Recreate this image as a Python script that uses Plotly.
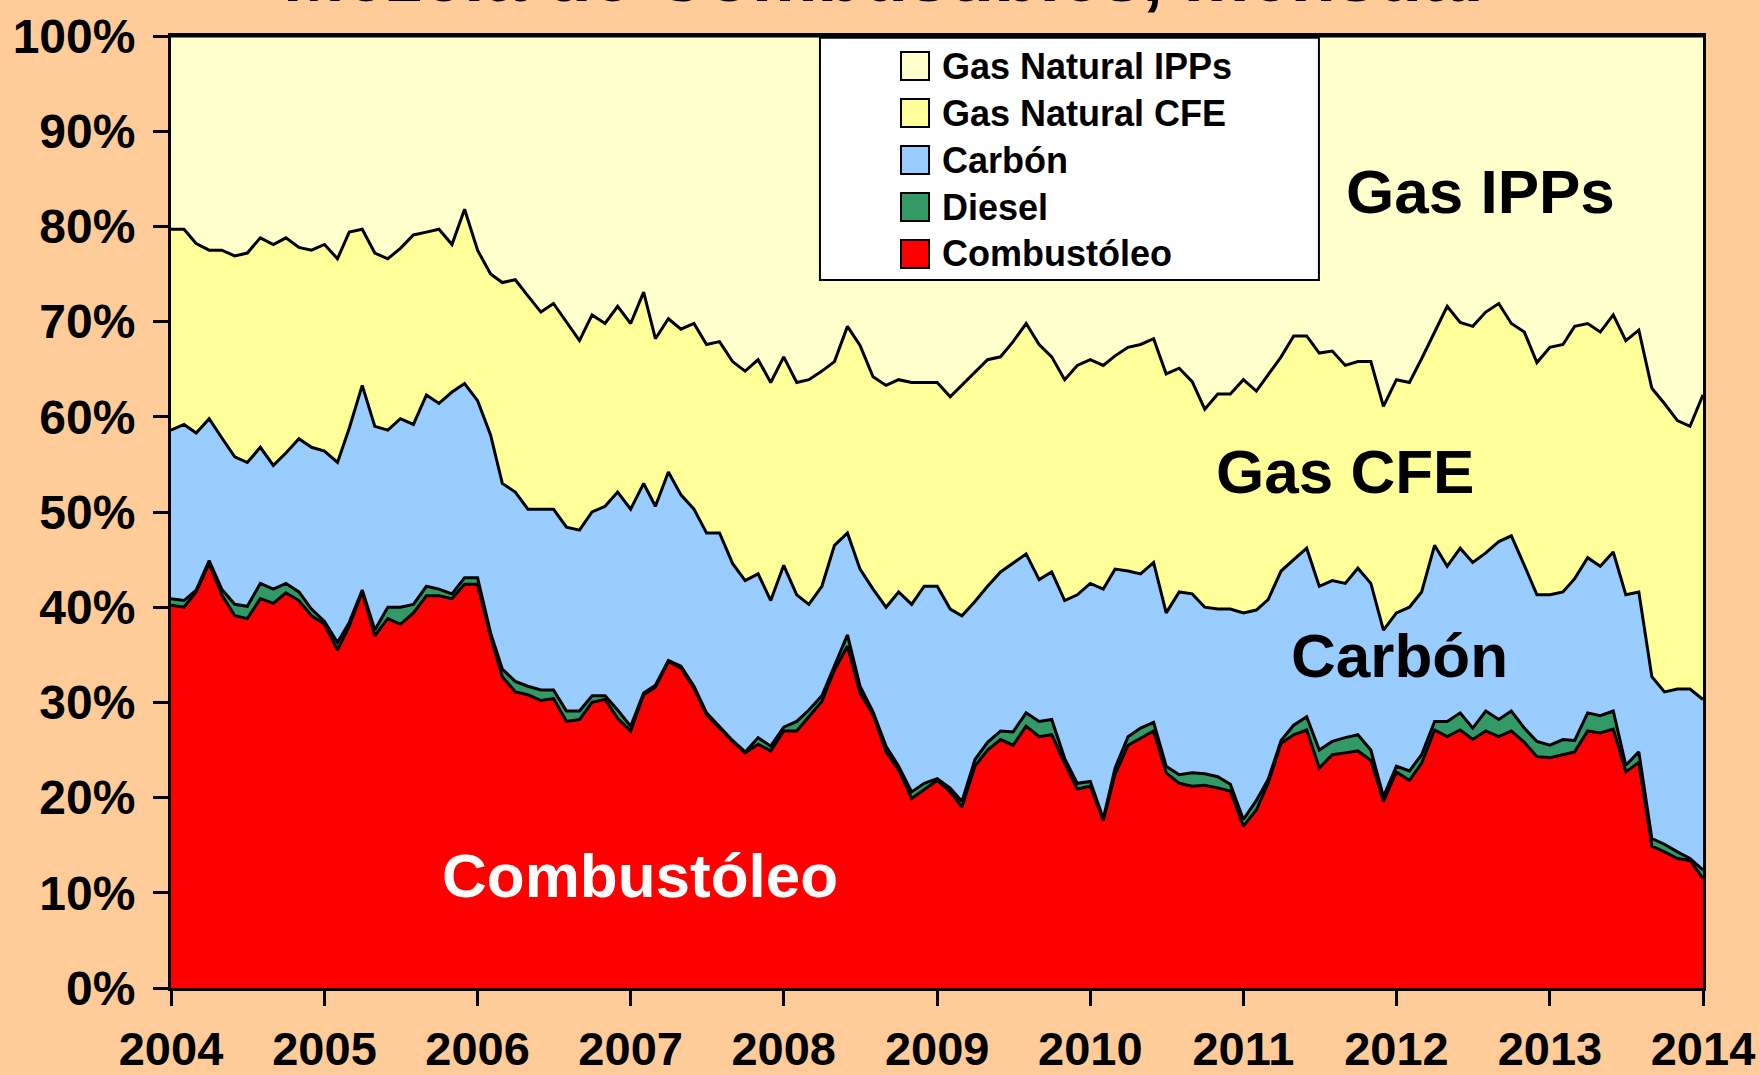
import pandas as pd
import plotly.graph_objects as go

# Monthly fuel shares (%) for generation, Jan 2004 - Jan 2014
months = pd.date_range("2004-01-01", "2014-01-01", freq="MS")

combustoleo = [
    40.2, 40.0, 41.6, 44.6, 41.3, 39.1, 38.8, 40.9, 40.4, 41.5, 40.7, 39.1,
    38.2, 35.5, 38.0, 41.6, 37.0, 38.8, 38.2, 39.4, 41.2, 41.2, 40.9, 42.4,
    42.4, 36.9, 32.7, 31.1, 30.8, 30.2, 30.4, 28.0, 28.2, 30.0, 30.3, 28.3,
    27.0, 30.8, 31.6, 34.3, 33.6, 31.5, 28.7, 27.3, 25.9, 24.7, 25.6, 24.9,
    27.0, 27.0, 28.5, 30.1, 33.4, 35.9, 31.0, 28.7, 24.8, 22.9, 19.9, 20.8,
    21.8, 20.6, 19.0, 23.3, 25.0, 26.1, 25.5, 27.5, 26.4, 26.6, 23.6, 20.9,
    21.2, 17.6, 22.4, 25.5, 26.2, 27.0, 22.6, 21.5, 21.2, 21.3, 21.0, 20.7,
    17.0, 18.7, 21.5, 25.7, 26.6, 27.1, 23.1, 24.5, 24.7, 24.9, 23.9, 19.6,
    22.7, 21.8, 23.6, 27.1, 26.4, 27.1, 26.1, 27.0, 26.4, 27.0, 25.8, 24.3,
    24.2, 24.5, 24.8, 27.0, 26.8, 27.2, 22.7, 23.7, 14.9, 14.3, 13.6, 13.4,
    11.5,
]
diesel = [
    0.7, 0.7, 0.2, 0.3, 0.6, 1.2, 1.3, 1.6, 1.5, 1.0, 0.9, 0.7,
    0.3, 0.8, 0.4, 0.2, 0.6, 1.2, 1.8, 0.9, 1.0, 0.7, 0.5, 0.7,
    0.7, 0.4, 0.8, 1.1, 0.9, 1.1, 0.9, 1.1, 0.9, 0.7, 0.4, 0.9,
    0.5, 0.2, 0.2, 0.1, 0.2, 0.2, 0.2, 0.2, 0.1, 0.1, 0.7, 0.5,
    0.4, 1.0, 0.7, 0.6, 0.5, 1.2, 0.7, 0.3, 0.6, 0.4, 0.7, 0.7,
    0.2, 0.4, 0.6, 0.7, 0.8, 0.9, 1.4, 1.4, 1.6, 1.6, 0.5, 0.6,
    0.5, 0.2, 0.7, 0.9, 1.1, 0.9, 0.7, 0.9, 1.4, 1.2, 1.2, 0.7,
    0.7, 1.0, 0.4, 0.3, 1.0, 1.4, 1.9, 1.4, 1.6, 1.7, 1.1, 0.5,
    0.6, 1.0, 0.9, 0.9, 1.6, 1.8, 1.2, 2.1, 1.8, 2.1, 1.5, 1.6,
    1.3, 1.6, 1.2, 1.9, 1.8, 1.9, 0.7, 1.1, 0.8, 0.8, 0.7, 0.2,
    0.9,
]
carbon = [
    17.7, 18.5, 16.5, 14.9, 15.9, 15.5, 15.1, 14.3, 13.0, 13.7, 16.1, 17.0,
    17.9, 18.9, 20.4, 21.5, 21.4, 18.6, 19.8, 18.9, 20.1, 19.5, 21.2, 20.4,
    18.6, 20.8, 19.5, 19.9, 18.6, 19.0, 19.0, 19.3, 19.0, 19.3, 19.9, 22.9,
    22.8, 22.0, 18.8, 19.8, 18.0, 18.6, 18.9, 20.3, 18.6, 18.0, 17.2, 15.3,
    17.0, 13.3, 11.1, 11.5, 12.6, 10.7, 12.3, 12.9, 14.6, 18.3, 19.7, 20.7,
    20.2, 18.8, 19.5, 16.6, 16.4, 16.7, 17.7, 16.7, 14.9, 15.5, 16.6, 19.8,
    20.8, 24.1, 20.9, 17.4, 16.2, 16.8, 16.1, 19.2, 18.8, 17.5, 17.6, 18.4,
    21.7, 20.0, 18.9, 17.8, 17.4, 17.7, 17.2, 16.9, 16.2, 17.5, 17.5, 17.5,
    16.1, 17.2, 17.1, 18.5, 16.3, 17.3, 17.4, 16.6, 18.7, 18.4, 17.1, 15.4,
    15.8, 15.5, 17.0, 16.3, 15.7, 16.7, 17.9, 16.8, 17.0, 16.0, 17.1, 17.8,
    17.9,
]
gas_cfe = [
    21.1, 20.5, 19.9, 17.7, 19.7, 21.1, 22.0, 22.0, 23.2, 22.6, 20.1, 20.7,
    21.7, 21.4, 20.6, 16.4, 18.2, 18.0, 17.9, 19.9, 17.1, 18.3, 15.5, 18.3,
    15.8, 16.9, 21.1, 22.3, 22.4, 20.7, 21.6, 21.6, 19.9, 20.7, 19.2, 19.5,
    19.5, 20.1, 17.6, 16.1, 17.4, 19.5, 19.8, 20.1, 21.2, 22.0, 22.5, 22.9,
    21.9, 22.3, 23.6, 22.6, 19.3, 21.7, 23.5, 22.3, 23.3, 22.3, 23.3, 21.4,
    21.4, 22.3, 24.2, 24.1, 23.8, 22.6, 23.3, 24.2, 24.7, 22.6, 23.2, 24.1,
    23.5, 23.5, 22.4, 23.5, 24.1, 23.5, 25.1, 23.5, 22.3, 20.8, 22.6, 22.6,
    24.5, 23.0, 23.6, 22.5, 23.5, 22.3, 24.5, 24.1, 22.9, 21.7, 23.3, 23.5,
    24.5, 23.6, 24.5, 22.4, 27.3, 23.7, 24.8, 25.3, 25.0, 22.3, 24.5, 24.4,
    26.0, 26.0, 26.5, 24.6, 24.6, 24.9, 26.7, 27.5, 30.3, 30.3, 28.2, 27.6,
    32.0,
]
gas_ipps = [
    20.3, 20.3, 21.8, 22.5, 22.5, 23.1, 22.8, 21.2, 21.9, 21.2, 22.2, 22.5,
    21.9, 23.4, 20.6, 20.3, 22.8, 23.4, 22.3, 20.9, 20.6, 20.3, 21.9, 18.2,
    22.5, 25.0, 25.9, 25.6, 27.3, 29.0, 28.1, 30.0, 32.0, 29.3, 30.2, 28.4,
    30.2, 26.9, 31.8, 29.7, 30.8, 30.2, 32.4, 32.1, 34.2, 35.2, 34.0, 36.4,
    33.7, 36.4, 36.1, 35.2, 34.2, 30.5, 32.5, 35.8, 36.7, 36.1, 36.4, 36.4,
    36.4, 37.9, 36.7, 35.3, 34.0, 33.7, 32.1, 30.2, 32.4, 33.7, 36.1, 34.6,
    34.0, 34.6, 33.6, 32.7, 32.4, 31.8, 35.5, 34.9, 36.3, 39.2, 37.6, 37.6,
    36.1, 37.3, 35.6, 33.7, 31.5, 31.5, 33.3, 33.1, 34.6, 34.2, 34.2, 38.9,
    36.1, 36.4, 33.9, 31.1, 28.4, 30.1, 30.5, 29.0, 28.1, 30.2, 31.1, 34.3,
    32.7, 32.4, 30.5, 30.2, 31.1, 29.3, 32.0, 30.9, 37.0, 38.6, 40.4, 41.0,
    37.7,
]

series = [
    ("Combustóleo", combustoleo, "#FF0000"),
    ("Diesel", diesel, "#339966"),
    ("Carbón", carbon, "#99CCFF"),
    ("Gas Natural CFE", gas_cfe, "#FFFF99"),
    ("Gas Natural IPPs", gas_ipps, "#FFFFCC"),
]
years = list(range(2004, 2015))

FONT = "Liberation Sans, Arial, sans-serif"

fig = go.Figure()
for name, vals, color in series:
    fig.add_trace(go.Scatter(
        x=months, y=vals, name=name,
        stackgroup="mix", mode="lines",
        line=dict(color="black", width=3),
        fillcolor=color,
        hovertemplate=name + ": %{y:.1f}%<extra></extra>",
    ))

# legend drawn by hand: white box, small square swatches, IPPs on top
fig.add_shape(type="rect", xref="paper", yref="paper",
              x0=0.4236, x1=0.7493, y0=0.7437, y1=0.9982,
              fillcolor="white", line=dict(color="black", width=2), layer="above")
for k, (name, vals, color) in enumerate(reversed(series)):
    yc = (988 - (66 + 47 * k)) / 952
    fig.add_shape(type="rect", xref="paper", yref="paper",
                  x0=0.4765, x1=0.4948, y0=yc - 14 / 952, y1=yc + 14 / 952,
                  fillcolor=color, line=dict(color="black", width=2), layer="above")
    fig.add_annotation(x=0.502, y=yc, xref="paper", yref="paper",
                       text="<b>" + name + "</b>", showarrow=False,
                       xanchor="left", yanchor="middle",
                       font=dict(family=FONT, size=36, color="black"))

labels = [
    ("Gas IPPs", 0.855, 0.837, "black"),
    ("Gas CFE", 0.766, 0.543, "black"),
    ("Carbón", 0.802, 0.349, "black"),
    ("Combustóleo", 0.306, 0.118, "white"),
]
for text, lx, ly, col in labels:
    fig.add_annotation(x=lx, y=ly, xref="paper", yref="paper", text="<b>" + text + "</b>",
                       showarrow=False, xanchor="center", yanchor="middle",
                       font=dict(family=FONT, size=62, color=col))

# title sits mostly above the canvas, only its lower part shows
fig.add_annotation(x=0.4648, y=1.0175, xref="paper", yref="paper",
                   text="<b>Mezcla de Combustibles, mensual</b>",
                   showarrow=False, xanchor="center", yanchor="bottom",
                   font=dict(family=FONT, size=74, color="black"))

fig.update_layout(
    width=1760, height=1075,
    paper_bgcolor="#FFCC99",
    plot_bgcolor="#FFFFCC",
    showlegend=False,
    margin=dict(l=171, r=57, t=36, b=87, autoexpand=False),
    font=dict(family=FONT, color="black"),
)
fig.update_xaxes(
    type="date",
    range=["2004-01-01", "2014-01-01"],
    tickvals=[f"{y}-01-01" for y in years],
    ticktext=[str(y) for y in years],
    ticks="outside", ticklen=15, tickwidth=2.5, tickcolor="black",
    ticklabelstandoff=3,
    tickfont=dict(family=FONT, size=47, color="black", weight="bold"),
    showline=True, linecolor="black", linewidth=3, mirror=True,
    showgrid=False, zeroline=False,
)
fig.update_yaxes(
    range=[0, 100], dtick=10, ticksuffix="%",
    ticks="outside", ticklen=15, tickwidth=2.5, tickcolor="black",
    ticklabelstandoff=8,
    tickfont=dict(family=FONT, size=48, color="black", weight="bold"),
    showline=True, linecolor="black", linewidth=3, mirror=True,
    showgrid=False, zeroline=False,
)

config = {"displayModeBar": False}
# drop the browser's default body margin so the figure fills the window
fig.write_html("out.html", config=config,
               post_script="document.body.style.margin = '0';")
